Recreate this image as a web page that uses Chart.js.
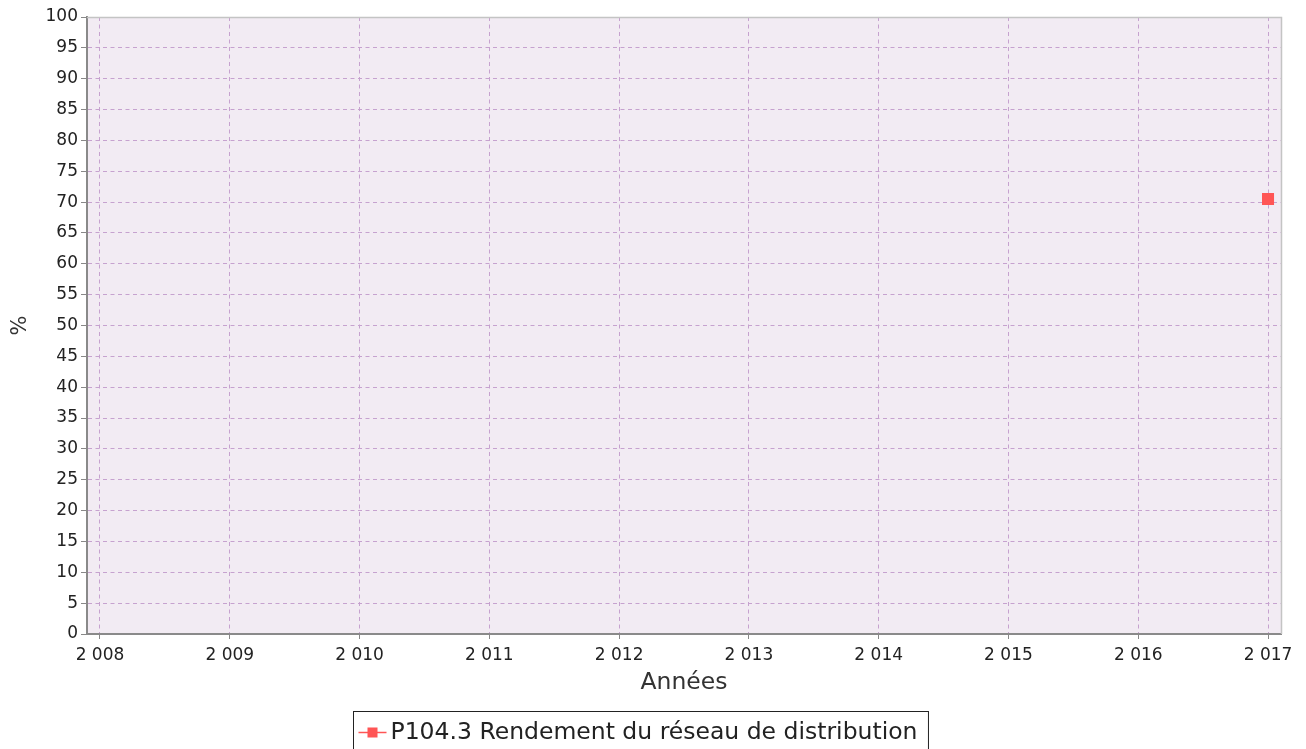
<!DOCTYPE html>
<html>
<head>
<meta charset="utf-8">
<script src="https://cdn.jsdelivr.net/npm/chart.js@4.4.1/dist/chart.umd.min.js"></script>
<style>
  html, body { margin: 0; padding: 0; background: #fff; }
  #wrap { width: 1306px; height: 749px; }
</style>
</head>
<body>
<div id="wrap"><canvas id="chart" width="1306" height="749"></canvas></div>
<script>
// données
const years = [2008, 2009, 2010, 2011, 2012, 2013, 2014, 2015, 2016, 2017];
const pointYears = [2017];
const rendement = [70.5];
const seriesLabel = 'P104.3 Rendement du réseau de distribution';

const FONT = "'DejaVu Sans', sans-serif";
const RED = '#ff5555';
const GRID = '#c6a2cf';

// format "2 008"
function fmtYear(v) {
    return String(v).replace(/\B(?=(\d{3})+(?!\d))/g, ' ');
}

// fond de la zone de tracé + bordure droite/haute
const plotBg = {
    id: 'plotBg',
    beforeDraw(chart) {
        const { ctx, chartArea: a } = chart;
        ctx.save();
        ctx.fillStyle = '#f2ebf3';
        ctx.fillRect(a.left, a.top, a.right - a.left, a.bottom - a.top);
        ctx.restore();
    },
    afterDraw(chart) {
        const { ctx, chartArea: a } = chart;
        ctx.save();
        ctx.strokeStyle = '#c4c4c4';
        ctx.lineWidth = 1.5;
        ctx.beginPath();
        ctx.moveTo(a.left, a.top + 0.5);
        ctx.lineTo(a.right + 0.5, a.top + 0.5);
        ctx.lineTo(a.right + 0.5, a.bottom);
        ctx.stroke();
        ctx.restore();
    }
};

// légende encadrée en bas
const boxLegend = {
    id: 'boxLegend',
    afterDraw(chart) {
        const ctx = chart.ctx;
        const ds = chart.data.datasets[0];
        ctx.save();
        ctx.font = '23.5px ' + FONT;
        const tw = ctx.measureText(ds.label).width;
        const x0 = 353.5;
        const y0 = 711.5;
        ctx.strokeStyle = '#222';
        ctx.lineWidth = 1;
        ctx.strokeRect(x0, y0, tw + 48, 60);
        const cy = 732.5;
        ctx.strokeStyle = ds.borderColor;
        ctx.lineWidth = 1.5;
        ctx.beginPath();
        ctx.moveTo(x0 + 5, cy);
        ctx.lineTo(x0 + 33, cy);
        ctx.stroke();
        ctx.fillStyle = ds.pointBackgroundColor;
        ctx.fillRect(x0 + 14, cy - 5, 10, 10);
        ctx.fillStyle = '#222';
        ctx.textBaseline = 'middle';
        ctx.fillText(ds.label, x0 + 37, cy);
        ctx.restore();
    }
};

new Chart(document.getElementById('chart'), {
    type: 'line',
    data: {
        datasets: [{
            label: seriesLabel,
            data: pointYears.map((y, i) => ({ x: y, y: rendement[i] })),
            borderColor: RED,
            backgroundColor: RED,
            pointBackgroundColor: RED,
            pointStyle: 'rect',
            pointRadius: 8.5,
            pointBorderWidth: 0,
            showLine: false
        }]
    },
    options: {
        responsive: false,
        animation: false,
        layout: { padding: { left: 0, top: 17, right: 25, bottom: 52 } },
        plugins: { legend: { display: false }, tooltip: { enabled: false } },
        scales: {
            x: {
                type: 'linear',
                min: 2007.9,
                max: 2017.1,
                afterBuildTicks: s => { s.ticks = years.map(v => ({ value: v })); },
                afterFit: s => { s.height = 63; },
                ticks: {
                    callback: v => fmtYear(v),
                    font: { family: FONT, size: 17 },
                    color: '#222',
                    padding: 6,
                    maxRotation: 0,
                    autoSkip: false
                },
                grid: {
                    color: GRID,
                    tickLength: 5,
                    tickColor: '#888',
                    tickBorderDash: []
                },
                border: { color: '#8a8a8a', width: 2, dash: [4, 3.5] },
                title: {
                    display: true,
                    text: 'Années',
                    font: { family: FONT, size: 23.5 },
                    color: '#333',
                    padding: { top: 0, bottom: 0 }
                }
            },
            y: {
                min: 0,
                max: 100,
                afterFit: s => { s.width = 87; },
                ticks: {
                    stepSize: 5,
                    font: { family: FONT, size: 17 },
                    color: '#222',
                    padding: 3
                },
                grid: {
                    color: GRID,
                    tickLength: 6,
                    tickColor: '#888',
                    tickBorderDash: []
                },
                border: { color: '#8a8a8a', width: 2, dash: [4, 3.5] },
                title: {
                    display: true,
                    text: '%',
                    font: { family: FONT, size: 21 },
                    color: '#333',
                    padding: { top: 8, bottom: 8 }
                }
            }
        }
    },
    plugins: [plotBg, boxLegend]
});
</script>
</body>
</html>
